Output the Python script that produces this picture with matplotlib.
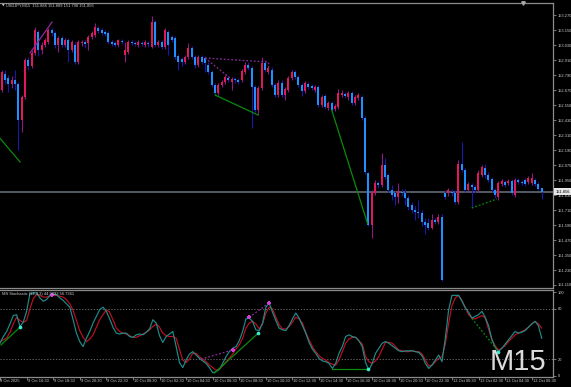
import matplotlib
matplotlib.use('Agg')
import matplotlib.pyplot as plt
import matplotlib.transforms as mtrans
from matplotlib.lines import Line2D

# ---------------- data ----------------
symbol_title = "USDJPY,M15  151.886 151.889 151.798 151.856"
stoch_title = "MS Stochastic (14,3,3) 44.9993 56.7361"

opens = [152.814, 152.670, 152.798, 152.766, 152.718, 152.750, 152.718, 152.430, 152.614, 152.910,
         152.862, 152.966, 153.134, 152.990, 153.030, 153.054, 153.150, 153.126, 153.030, 153.086,
         153.030, 153.070, 152.990, 153.030, 152.894, 153.046, 153.054, 153.046, 153.094, 153.110,
         153.166, 153.150, 153.134, 153.126, 153.054, 153.046, 153.030, 153.062, 152.950, 152.974,
         153.054, 153.046, 153.030, 153.046, 153.030, 153.046, 153.014, 153.214, 153.030, 153.054,
         153.014, 153.134, 153.094, 153.086, 152.942, 152.918, 152.894, 152.934, 153.006, 152.934,
         152.870, 152.934, 152.926, 152.870, 152.814, 152.710, 152.646, 152.710, 152.734, 152.766,
         152.734, 152.758, 152.750, 152.750, 152.814, 152.870, 152.846, 152.694, 152.510, 152.686,
         152.886, 152.814, 152.830, 152.710, 152.630, 152.726, 152.630, 152.670, 152.766, 152.814,
         152.774, 152.710, 152.662, 152.718, 152.702, 152.670, 152.694, 152.550, 152.622, 152.526,
         152.566, 152.518, 152.534, 152.630, 152.638, 152.614, 152.646, 152.566, 152.606, 152.614,
         152.446, 152.006, 151.590, 151.846, 151.926, 151.910, 152.070, 151.990, 151.870, 151.846,
         151.814, 151.854, 151.846, 151.806, 151.750, 151.710, 151.694, 151.686, 151.614, 151.606,
         151.566, 151.630, 151.614, 151.654, 151.846, 151.846, 151.854, 151.846, 151.774, 152.078,
         152.030, 151.870, 151.910, 151.894, 151.870, 151.990, 152.046, 151.990, 151.958, 151.870,
         151.814, 151.918, 151.934, 151.926, 151.942, 151.830, 151.950, 151.934, 151.950, 151.934,
         151.926, 151.950, 151.918, 151.886]
highs = [152.830, 152.830, 152.830, 152.790, 152.782, 152.830, 152.734, 152.630, 152.926, 152.934,
         152.990, 153.174, 153.150, 153.054, 153.086, 153.166, 153.166, 153.142, 153.102, 153.102,
         153.086, 153.086, 153.070, 153.054, 153.070, 153.070, 153.070, 153.110, 153.142, 153.206,
         153.182, 153.166, 153.150, 153.142, 153.070, 153.062, 153.078, 153.078, 153.054, 153.070,
         153.070, 153.062, 153.070, 153.062, 153.070, 153.062, 153.262, 153.230, 153.070, 153.070,
         153.166, 153.150, 153.110, 153.102, 152.958, 152.934, 152.950, 153.046, 153.022, 152.950,
         152.950, 152.950, 152.942, 152.894, 152.830, 152.726, 152.726, 152.750, 152.790, 152.782,
         152.774, 152.774, 152.766, 152.838, 152.894, 152.894, 152.862, 152.710, 152.702, 152.934,
         152.910, 152.862, 152.854, 152.726, 152.750, 152.750, 152.694, 152.782, 152.830, 152.830,
         152.790, 152.726, 152.742, 152.734, 152.718, 152.710, 152.710, 152.630, 152.638, 152.582,
         152.582, 152.558, 152.678, 152.670, 152.654, 152.662, 152.662, 152.630, 152.646, 152.630,
         152.462, 152.014, 151.870, 151.950, 151.942, 152.166, 152.126, 152.006, 151.910, 151.862,
         151.926, 151.878, 151.878, 151.830, 151.774, 151.742, 151.790, 151.710, 151.646, 151.646,
         151.678, 151.646, 151.678, 151.678, 151.870, 151.886, 151.878, 151.870, 152.110, 152.254,
         152.046, 151.934, 151.926, 151.910, 152.030, 152.070, 152.078, 152.014, 151.974, 151.886,
         151.942, 151.958, 151.950, 151.958, 151.958, 151.966, 151.966, 151.950, 151.966, 151.982,
         152.006, 151.966, 151.934, 151.889]
lows = [152.734, 152.654, 152.718, 152.654, 152.686, 152.670, 152.190, 152.334, 152.598, 152.830,
        152.846, 152.950, 152.942, 152.958, 153.014, 153.038, 153.102, 153.006, 152.974, 153.014,
        153.014, 152.894, 152.974, 152.878, 152.878, 153.022, 153.006, 152.990, 153.078, 153.094,
        153.126, 153.110, 153.102, 153.038, 153.022, 153.014, 153.014, 153.038, 152.894, 152.958,
        153.030, 153.022, 153.014, 153.022, 153.014, 153.014, 153.006, 153.014, 153.014, 152.998,
        152.998, 152.950, 153.054, 152.918, 152.830, 152.862, 152.878, 152.918, 152.918, 152.846,
        152.854, 152.878, 152.814, 152.798, 152.694, 152.630, 152.630, 152.694, 152.718, 152.734,
        152.670, 152.726, 152.718, 152.734, 152.798, 152.830, 152.366, 152.494, 152.470, 152.670,
        152.814, 152.798, 152.694, 152.614, 152.614, 152.614, 152.590, 152.654, 152.750, 152.758,
        152.694, 152.622, 152.646, 152.678, 152.670, 152.654, 152.534, 152.534, 152.518, 152.510,
        152.494, 152.502, 152.518, 152.614, 152.606, 152.590, 152.550, 152.550, 152.590, 152.430,
        151.998, 151.582, 151.486, 151.830, 151.886, 151.894, 151.958, 151.854, 151.790, 151.750,
        151.766, 151.822, 151.750, 151.710, 151.686, 151.630, 151.646, 151.582, 151.518, 151.550,
        151.558, 151.598, 151.598, 151.142, 151.798, 151.822, 151.822, 151.758, 151.758, 152.014,
        151.854, 151.854, 151.726, 151.846, 151.854, 151.974, 151.966, 151.934, 151.854, 151.806,
        151.790, 151.902, 151.894, 151.910, 151.830, 151.814, 151.918, 151.910, 151.902, 151.918,
        151.910, 151.902, 151.870, 151.798]
closes = [152.750, 152.814, 152.750, 152.718, 152.750, 152.718, 152.430, 152.614, 152.910, 152.862,
          152.966, 153.150, 152.990, 153.030, 153.070, 153.150, 153.126, 153.030, 153.086, 153.030,
          153.070, 152.990, 153.054, 152.894, 153.054, 153.054, 153.038, 153.094, 153.126, 153.174,
          153.142, 153.126, 153.118, 153.054, 153.038, 153.030, 153.070, 153.054, 152.990, 153.054,
          153.046, 153.038, 153.054, 153.038, 153.054, 153.038, 153.214, 153.030, 153.054, 153.014,
          153.150, 153.030, 153.070, 152.934, 152.894, 152.894, 152.934, 153.006, 152.934, 152.870,
          152.934, 152.894, 152.886, 152.814, 152.710, 152.646, 152.710, 152.734, 152.774, 152.750,
          152.758, 152.750, 152.734, 152.822, 152.870, 152.846, 152.694, 152.510, 152.686, 152.886,
          152.830, 152.846, 152.710, 152.630, 152.726, 152.630, 152.678, 152.766, 152.814, 152.774,
          152.710, 152.662, 152.726, 152.694, 152.686, 152.694, 152.550, 152.614, 152.534, 152.566,
          152.510, 152.542, 152.646, 152.646, 152.622, 152.646, 152.566, 152.614, 152.630, 152.446,
          152.014, 151.590, 151.854, 151.926, 151.910, 152.070, 151.974, 151.870, 151.830, 151.814,
          151.862, 151.846, 151.806, 151.734, 151.710, 151.694, 151.686, 151.614, 151.590, 151.566,
          151.630, 151.614, 151.654, 151.150, 151.814, 151.870, 151.846, 151.774, 152.078, 152.030,
          151.870, 151.918, 151.894, 151.870, 152.006, 152.054, 151.990, 151.950, 151.870, 151.830,
          151.926, 151.942, 151.910, 151.942, 151.846, 151.950, 151.934, 151.926, 151.918, 151.966,
          151.966, 151.918, 151.878, 151.856]
last_price = 151.856

stoch_main = [39, 47, 53, 62, 72, 73, 59, 64, 77, 98, 99, 99, 93, 89, 91, 96, 97, 97, 93, 90,
              86, 82, 67, 51, 41, 35, 45, 53, 63, 71, 79, 82, 77, 68, 58, 51, 50, 51, 51, 47,
              46, 49, 50, 49, 52, 56, 67, 63, 48, 40, 47, 50, 53, 35, 16, 10, 19, 26, 29, 25,
              21, 18, 15, 10, 4, 5, 8, 15, 23, 29, 33, 35, 42, 53, 68, 69, 65, 55, 54, 63,
              82, 87, 76, 66, 57, 55, 54, 60, 68, 75, 69, 60, 51, 40, 32, 27, 21, 18, 17, 15,
              9, 15, 27, 35, 47, 49, 47, 46, 42, 35, 16, 7, 15, 27, 33, 39, 41, 39, 36, 33,
              30, 29, 30, 30, 30, 29, 28, 24, 15, 9, 13, 19, 25, 17, 45, 79, 96, 96, 96, 89,
              81, 76, 69, 71, 73, 77, 70, 60, 44, 34, 29, 33, 38, 43, 48, 53, 51, 52, 54, 58,
              62, 65, 60, 45]
stoch_signal = [41, 43, 45, 52, 62, 70, 66, 64, 66, 80, 92, 97, 96, 94, 94, 95, 96, 96, 95, 94,
                91, 86, 78, 66, 54, 46, 41, 44, 49, 58, 67, 73, 79, 76, 67, 57, 53, 51, 50, 48,
                46, 46, 48, 50, 52, 55, 59, 62, 58, 51, 48, 47, 47, 45, 32, 19, 16, 20, 27, 27,
                23, 20, 17, 13, 10, 7, 8, 12, 17, 21, 26, 32, 37, 45, 57, 63, 65, 62, 56, 62,
                75, 82, 80, 70, 61, 56, 56, 59, 64, 70, 68, 63, 52, 43, 35, 29, 24, 21, 19, 16,
                14, 13, 19, 29, 39, 44, 46, 46, 42, 38, 23, 17, 15, 18, 23, 32, 40, 40, 39, 35,
                31, 30, 29, 29, 30, 29, 29, 26, 19, 12, 13, 17, 21, 23, 38, 63, 84, 93, 96, 90,
                82, 73, 69, 68, 70, 72, 69, 56, 43, 36, 31, 33, 36, 41, 45, 49, 51, 53, 55, 58,
                62, 65, 62, 57]
stoch_levels = [20, 80]

time_tick_index = [0, 8, 16, 24, 32, 40, 48, 56, 64, 72, 80, 88, 96, 104, 112, 120, 128, 136, 144, 152, 160]
time_labels = ['9 Oct 2025', '9 Oct 16:30', '9 Oct 18:30', '9 Oct 20:30', '9 Oct 22:30',
               '10 Oct 00:30', '10 Oct 02:30', '10 Oct 04:30', '10 Oct 06:30', '10 Oct 08:30',
               '10 Oct 10:30', '10 Oct 12:30', '10 Oct 14:30', '10 Oct 16:30', '10 Oct 18:30',
               '10 Oct 20:30', '10 Oct 22:30', '13 Oct 00:30', '13 Oct 02:30', '13 Oct 04:30',
               '13 Oct 06:30']
price_ticks = [151.110, 151.230, 151.350, 151.470, 151.590, 151.710, 151.830, 151.950, 152.070,
               152.190, 152.310, 152.430, 152.550, 152.670, 152.790, 152.910, 153.030, 153.150, 153.270]
stoch_ticks = [0, 20, 80, 100]

# annotation segments (bar index, value)
main_solid_green = [((-0.1, 152.302), (6.5, 152.094)),
                    ((65.0, 152.630), (77.9, 152.470)),
                    ((100.0, 152.510), (110.7, 151.606))]
main_dotted_green = [((142.0, 151.726), (149.6, 151.798))]
main_solid_magenta = [((9.5, 152.966), (16.1, 153.214))]
main_dotted_magenta = [((62.0, 152.926), (81.0, 152.894)),
                       ((62.0, 152.926), (69.5, 152.766)),
                       ((81.0, 152.894), (81.0, 152.854))]
osc_solid_green = [((0.3, 37.0), (6.0, 58.0)),
                   ((64.5, 3.5), (77.7, 51.0)),
                   ((100.0, 8.5), (110.8, 8.5))]
osc_dotted_green = [((142.0, 68.5), (150.0, 29.0))]
osc_dotted_magenta = [((60.5, 20.0), (70.0, 31.0)),
                      ((75.0, 70.0), (81.0, 87.0))]
osc_cyan_dots = [(6.0, 58.0), (77.7, 51.0), (110.8, 8.5), (150.0, 29.0)]
osc_magenta_marks = [(15.7, 97.0), (70.0, 31.0), (75.0, 70.0), (81.0, 87.0)]

# ---------------- style ----------------
W, H = 571, 387
BG = 'black'
BULL = '#e0185c'
BEAR = '#1e90ff'
BULL_WICK = '#8a1a86'
BEAR_WICK = '#1a1aa8'
AXC = '#8c8c8c'
TXT = '#cccccc'
GREEN = '#0a8a0a'
MAG = '#8b2a9b'
SMALL = dict(family='Liberation Sans', fontsize=2.9)

fig = plt.figure(figsize=(W / 100, H / 100), dpi=100, facecolor=BG)
ax = fig.add_axes([0, 99 / H, 553 / W, 285 / H], facecolor=BG)
ax2 = fig.add_axes([0, 10 / H, 553 / W, 87 / H], facecolor=BG)

n = len(closes)
xs = list(range(n))
xlim = (0.48, 166.4)

# candles
for i in xs:
    o, h, l, c = opens[i], highs[i], lows[i], closes[i]
    bull = c >= o
    ax.vlines(i, l, h, colors=BULL_WICK if bull else BEAR_WICK, linewidth=0.8, zorder=2)
for i in xs:
    o, c = opens[i], closes[i]
    bull = c >= o
    bot = min(o, c)
    ht = max(abs(c - o), 0.007)
    ax.bar(i, ht, bottom=bot, width=0.66, color=BULL if bull else BEAR, linewidth=0, zorder=3)

# current price line
ax.axhline(last_price, color='#5a626c', linewidth=1.3, zorder=1)

for (a, b) in main_solid_green:
    ax.plot([a[0], b[0]], [a[1], b[1]], color=GREEN, linewidth=0.9, zorder=4)
for (a, b) in main_dotted_green:
    ax.plot([a[0], b[0]], [a[1], b[1]], color=GREEN, linewidth=0.9, linestyle=(0, (1.5, 1.5)), zorder=4)
for (a, b) in main_solid_magenta:
    ax.plot([a[0], b[0]], [a[1], b[1]], color=MAG, linewidth=0.9, zorder=4)
for (a, b) in main_dotted_magenta:
    ax.plot([a[0], b[0]], [a[1], b[1]], color=MAG, linewidth=0.9, linestyle=(0, (1.5, 1.5)), zorder=4)

ax.set_xlim(*xlim)
ax.set_ylim(151.086, 153.366)
ax.yaxis.tick_right()
ax.set_yticks(price_ticks)
ax.set_yticklabels(['%.3f' % p for p in price_ticks], **SMALL)
ax.tick_params(axis='y', colors=AXC, labelcolor=TXT, length=2, width=0.6, pad=1.5)
ax.tick_params(axis='x', bottom=False, labelbottom=False)
ax.spines['left'].set_visible(False)
for s in ['top', 'right', 'bottom']:
    ax.spines[s].set_color(AXC)
    ax.spines[s].set_linewidth(0.9)

# current price box
ax.annotate('%.3f' % last_price, xy=(1.0, last_price), xycoords=('axes fraction', 'data'),
            xytext=(1.8, 0), textcoords='offset points', ha='left', va='center',
            color='black', annotation_clip=False,
            bbox=dict(boxstyle='square,pad=0.35', facecolor='#e6e6e6', edgecolor='none'), zorder=10, **SMALL)

# ---------------- stochastic ----------------
for lv in stoch_levels:
    ax2.axhline(lv, color='#777777', linewidth=0.6, linestyle=(0, (1.5, 2)), zorder=1)
ax2.plot(xs, stoch_signal, color='#c01020', linewidth=0.85, zorder=3)
ax2.plot(xs, stoch_main, color='#1f8c8c', linewidth=0.85, zorder=4)
for (a, b) in osc_solid_green:
    ax2.plot([a[0], b[0]], [a[1], b[1]], color=GREEN, linewidth=0.9, zorder=5)
for (a, b) in osc_dotted_green:
    ax2.plot([a[0], b[0]], [a[1], b[1]], color=GREEN, linewidth=0.9, linestyle=(0, (1.5, 1.5)), zorder=5)
for (a, b) in osc_dotted_magenta:
    ax2.plot([a[0], b[0]], [a[1], b[1]], color=MAG, linewidth=0.9, linestyle=(0, (1.5, 1.5)), zorder=5)
ax2.scatter([p[0] for p in osc_cyan_dots], [p[1] for p in osc_cyan_dots], s=7, color='#3ee8d0', zorder=6, linewidths=0)
ax2.scatter([p[0] for p in osc_magenta_marks], [p[1] for p in osc_magenta_marks], s=9, marker='P', color='#d040d8', zorder=6, linewidths=0)

ax2.set_xlim(*xlim)
ax2.set_ylim(-1.2, 102.4)
ax2.yaxis.tick_right()
ax2.set_yticks(stoch_ticks)
ax2.set_yticklabels([str(t) for t in stoch_ticks], **SMALL)
ax2.tick_params(axis='y', colors=AXC, labelcolor=TXT, length=2, width=0.6, pad=1.5)
ax2.set_xticks(time_tick_index)
ax2.set_xticklabels([])
ax2.tick_params(axis='x', colors=AXC, length=2, width=0.6, direction='out')
ax2.spines['left'].set_visible(False)
for s in ['top', 'right', 'bottom']:
    ax2.spines[s].set_color(AXC)
    ax2.spines[s].set_linewidth(0.9)

trans = mtrans.blended_transform_factory(ax2.transData, ax2.transAxes)
for k, (ti, lab) in enumerate(zip(time_tick_index, time_labels)):
    dx = 0.2 if k == 0 else 1.0
    off = mtrans.ScaledTranslation(dx / 100, -1.8 / 100, fig.dpi_scale_trans)
    ax2.text(ti, 0, lab, transform=trans + off, ha='left', va='top', color=TXT, clip_on=False, **SMALL)

# ---------------- titles ----------------
fig.text(2 / W, 1 - 5.5 / H, '\u25bc', fontsize=2.4, color=TXT, ha='left', va='center')
fig.text(6 / W, 1 - 5.5 / H, symbol_title, color=TXT, ha='left', va='center', **SMALL)
fig.text(2 / W, 1 - 293.5 / H, stoch_title, color=TXT, ha='left', va='center', **SMALL)
fig.add_artist(Line2D([523 / W], [1 - 2.5 / H], marker='v', markersize=2.5, color='#a8a8a8',
                      transform=fig.transFigure, linestyle='none'))
fig.text(518 / W, 1 - 362 / H, 'M15', fontsize=21, color='#dcdcdc', ha='center', va='center',
         family='Liberation Sans', zorder=20)

fig.savefig('out.png', dpi=100, facecolor=BG)
